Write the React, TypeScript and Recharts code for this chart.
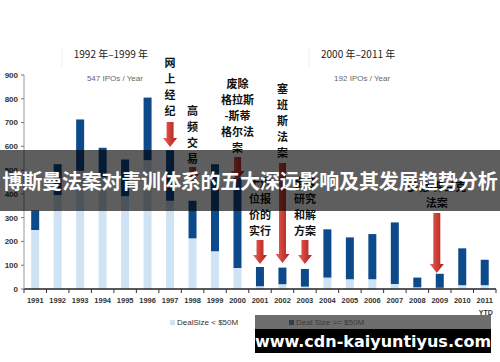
import React from "react";
import { BarChart, Bar, XAxis, YAxis, Legend } from "recharts";

document.body.style.margin = "0";

const years = [
  "1991", "1992", "1993", "1994", "1995", "1996", "1997", "1998", "1999", "2000", "2001",
  "2002", "2003", "2004", "2005", "2006", "2007", "2008", "2009", "2010", "2011",
];
const smallDeals = [248, 395, 497, 470, 390, 542, 371, 213, 159, 88, 12, 20, 10, 48, 41, 41, 21, 7, 5, 16, 16];
const largeDeals = [82, 130, 216, 124, 155, 263, 213, 158, 366, 380, 80, 70, 74, 203, 176, 190, 259, 41, 59, 155, 107];
const yTicks = [0, 100, 200, 300, 400, 500, 600, 700, 800, 900];
const subLabels: Record<string, string> = { "2011": "YTD" };
const seriesNames = ["DealSize < $50M", "Deal Size >= $50M"];

const periods = [
  { title: "1992 年–1999 年", sub: "547 IPOs / Year", from: "1993", to: "1996" },
  { title: "2000 年–2011 年", sub: "192 IPOs / Year", from: "2005", to: "2006" },
];

// vertical notes above the bars, each with a red arrow pointing down
const notes = [
  { year: "1997", lines: ["网", "上", "经", "纪"], first: 62, arrow: [122, 147] },
  { year: "1998", lines: ["高", "频", "交", "易"], first: 110, arrow: [167, 182] },
  { year: "2000", lines: ["废除", "格拉斯", "-斯蒂", "格尔法", "案"], first: 83, arrow: [157, 180] },
  { year: "2001", lines: ["十进", "位报", "价的", "实行"], first: 182, arrow: [240, 264] },
  { year: "2002", lines: ["塞", "班", "斯", "法", "案"], first: 88, arrow: [163, 263] },
  { year: "2003", lines: ["全球", "研究", "和解", "方案"], first: 182, arrow: [240, 264] },
  { year: "2009", lines: ["多德-弗兰克", "法案"], first: 186, arrow: [213, 273] },
];

const data = years.map((year, i) => ({ year, small: smallDeals[i], large: largeDeals[i] }));

const W = 500;
const H = 362;
const LEFT = 24;
const RIGHT = 496;
const TOP = 75;
const BOTTOM = 289;
const step = (RIGHT - LEFT) / years.length;
const xOf = (year: string) => LEFT + step * (years.indexOf(year) + 0.5);

const LIGHT = "#cfe3f5";
const DARK = "#0c4a8b";
const cjk = "'Noto Sans CJK SC', sans-serif";
const latin = "'Liberation Sans', Arial, sans-serif";

const YearTick = ({ x, payload, index }: any) => {
  const last = index === years.length - 1;
  const sub = subLabels[payload.value];
  return (
    <g>
      <line x1={x - step / 2} x2={x - step / 2} y1={BOTTOM} y2={BOTTOM + 4} stroke="#333" />
      {last && <line x1={x + step / 2} x2={x + step / 2} y1={BOTTOM} y2={BOTTOM + 4} stroke="#333" />}
      <text x={x} y={BOTTOM + 14} textAnchor="middle" fontSize={7.5} fontWeight="bold" fill="#333" fontFamily={latin}>
        {payload.value}
      </text>
      {sub && (
        <text x={x + 1} y={BOTTOM + 26} textAnchor="middle" fontSize={7} fontWeight="bold" fill="#333" fontFamily={latin}>
          {sub}
        </text>
      )}
    </g>
  );
};

const renderLegend = ({ payload }: any) => (
  <div style={{ position: "relative", height: 14, fontFamily: latin }}>
    {(payload || []).map((p: any) => (
      <div key={p.value} style={{
        position: "absolute", left: p.value === seriesNames[0] ? 170 : 289, top: 2, display: "flex",
        alignItems: "center", fontSize: 8, color: "#333", whiteSpace: "nowrap",
      }}>
        <span style={{ width: 5, height: 5, background: p.color, marginRight: 2, display: "inline-block" }} />
        {p.value}
      </div>
    ))}
  </div>
);

const Arrow = ({ x, y1, y2, id }: { x: number; y1: number; y2: number; id: string }) => {
  const head = 9;
  const shaft = 3.5;
  const wing = 7;
  const d = `M${x - shaft},${y1} L${x + shaft},${y1} L${x + shaft},${y2 - head} L${x + wing},${y2 - head} L${x},${y2} L${x - wing},${y2 - head} L${x - shaft},${y2 - head} Z`;
  return <path d={d} fill={`url(#${id})`} />;
};

export default function App() {
  return (
    <div style={{ position: "relative", width: W, height: H, background: "#fff", overflow: "hidden" }}>
      <BarChart width={W} height={H} data={data} barCategoryGap="32%"
        margin={{ top: TOP, right: W - RIGHT, bottom: 43, left: 4 }}>
        <XAxis dataKey="year" height={30} interval={0} tickLine={false} tick={<YearTick />}
          axisLine={{ stroke: "#222", strokeWidth: 1.6 }} />
        <YAxis width={20} domain={[0, 900]} ticks={yTicks} interval={0} tickSize={3} tickMargin={3}
          axisLine={{ stroke: "#999" }} tickLine={{ stroke: "#777" }}
          tick={{ fontSize: 8, fontWeight: "bold", fill: "#333", fontFamily: latin }} />
        <Legend layout="horizontal" verticalAlign="middle" align="center" content={renderLegend}
          wrapperStyle={{ top: 316, left: 0, width: W }} />
        <Bar dataKey="small" stackId="a" name={seriesNames[0]} fill={LIGHT} isAnimationActive={false} />
        <Bar dataKey="large" stackId="a" name={seriesNames[1]} fill={DARK} isAnimationActive={false} />
      </BarChart>

      <svg width={W} height={H} style={{ position: "absolute", left: 0, top: 0, pointerEvents: "none" }}>
        <defs>
          <linearGradient id="red" x1="0" x2="1" y1="0" y2="0">
            <stop offset="0%" stopColor="#e86a62" />
            <stop offset="45%" stopColor="#d2403a" />
            <stop offset="100%" stopColor="#a8231f" />
          </linearGradient>
        </defs>
        {periods.map((p) => {
          const cx = (xOf(p.from) + xOf(p.to)) / 2;
          return (
            <g key={p.title}>
              <text x={cx - 3} y={58} textAnchor="middle" fontSize={10} fill="#222" fontFamily={cjk}>{p.title}</text>
              <text x={cx + 1} y={81} textAnchor="middle" fontSize={8} fill="#666" fontFamily={latin}>{p.sub}</text>
              <line x1={cx - 52} x2={cx - 52} y1={47} y2={67} stroke="#eee" />
            </g>
          );
        })}
        {notes.map((n) => {
          const x = xOf(n.year) - (n.year === "2009" ? 3 : 0);
          return (
            <g key={n.year}>
              {n.lines.map((line, i) => (
                <text key={i} x={x} y={n.first + i * 16} dominantBaseline="central" textAnchor="middle"
                  fontSize={11} fontWeight="bold" fill="#111" fontFamily={cjk}>{line}</text>
              ))}
              <Arrow x={x} y1={n.arrow[0]} y2={n.arrow[1]} id="red" />
            </g>
          );
        })}
      </svg>

      <div style={{
        position: "absolute", left: 0, top: 150, width: W, height: 61, background: "rgba(0,0,0,0.63)",
        display: "flex", alignItems: "center", justifyContent: "center", color: "#fff",
        fontFamily: cjk, fontWeight: "bold", fontSize: 20, whiteSpace: "nowrap", letterSpacing: -0.2,
      }}>
        博斯曼法案对青训体系的五大深远影响及其发展趋势分析
      </div>

      <div style={{ position: "absolute", left: 255, top: 315, width: 236, height: 14, background: "rgba(60,60,60,0.75)" }} />
      <div style={{
        position: "absolute", left: 255, top: 329, width: 236, height: 24, background: "#000", color: "#fff",
        display: "flex", alignItems: "center", justifyContent: "center",
        fontFamily: "'DejaVu Sans', sans-serif", fontWeight: "bold", fontSize: 16, whiteSpace: "nowrap",
      }}>
        www.cdn-kaiyuntiyus.com
      </div>
    </div>
  );
}
